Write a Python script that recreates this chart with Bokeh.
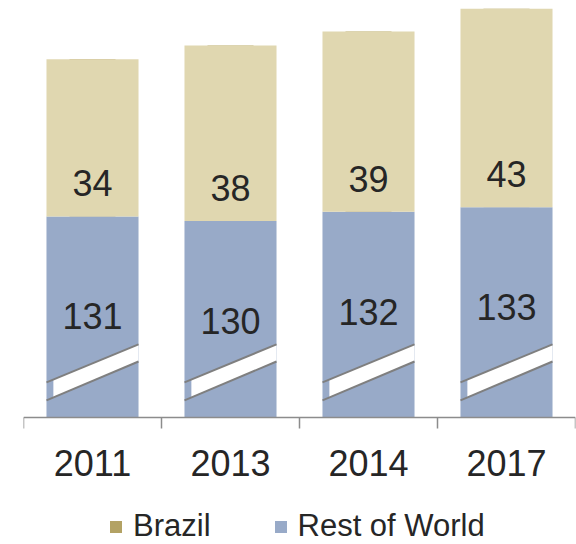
from bokeh.plotting import figure
from bokeh.models import Range1d, FixedTicker, Legend, LegendItem, ColumnDataSource
from bokeh.core.properties import value
from bokeh.embed import file_html
from bokeh.resources import INLINE

# ---- data ----
years = ["2011", "2013", "2014", "2017"]
rest_of_world = [131, 130, 132, 133]
brazil = [34, 38, 39, 43]

# ---- style ----
AXIS_START = 87.5          # truncated (broken) value axis
BELOW_PAD = 27.5           # room below the axis for labels and legend
FONT = "Liberation Sans"
BRAZIL_COLOR = "#e0d7b0"
BRAZIL_KEY = "#b3a264"
ROW_COLOR = "#98aac8"
TEXT = "#262626"
AXIS_COLOR = "#8c8c8c"
BAR_W = 0.667

x = list(range(len(years)))
totals = [r + b for r, b in zip(rest_of_world, brazil)]

src = ColumnDataSource(dict(
    x=x, row=rest_of_world, brazil=brazil, total=totals,
    row_lbl=[str(v) for v in rest_of_world],
    brazil_lbl=[str(v) for v in brazil],
))

p = figure(width=576, height=544,
           x_range=Range1d(-0.5, len(years) - 0.5),
           y_range=Range1d(AXIS_START - BELOW_PAD, max(totals)),
           output_backend="svg", toolbar_location=None,
           min_border_left=23, min_border_right=1,
           min_border_top=8, min_border_bottom=0,
           y_axis_location=None)
p.outline_line_color = None
p.xgrid.visible = False
p.ygrid.visible = False
p.background_fill_color = "white"
p.border_fill_color = "white"

# legend key for Brazil (darker swatch), hidden behind the Brazil bars
key_brazil = p.vbar(x='x', bottom='row', top='total', width=BAR_W * 0.5,
                    fill_color=BRAZIL_KEY, line_color=None, source=src)

row_bars = p.vbar(x='x', bottom=AXIS_START, top='row', width=BAR_W,
                  fill_color=ROW_COLOR, line_color=None, source=src)
p.vbar(x='x', bottom='row', top='total', width=BAR_W, fill_color=BRAZIL_COLOR,
       line_color=None, source=src)

# ---- axis-break markers on each bar ----
half = BAR_W / 2
inset = 0.05
lo_l, lo_r, up_l, up_r = 3.7, 12.1, 7.6, 15.8   # offsets above axis start
slope_lo = (lo_r - lo_l) / BAR_W
slope_up = (up_r - up_l) / BAR_W
fx, fy, lx, ly = [], [], [], []
for xi in x:
    L, R = xi - half, xi + half
    fx.append([L + inset, R, R, L + inset])
    fy.append([AXIS_START + lo_l + slope_lo * inset, AXIS_START + lo_r,
               AXIS_START + up_r, AXIS_START + up_l + slope_up * inset])
    lx += [[L, R], [L, R]]
    ly += [[AXIS_START + lo_l, AXIS_START + lo_r],
           [AXIS_START + up_l, AXIS_START + up_r]]
p.patches(fx, fy, fill_color="white", line_color=None)
p.multi_line(lx, ly, line_color="#7f7f7f", line_width=2)

# ---- value labels ----
p.text(x='x', y='row', text='brazil_lbl', source=src, text_align='center',
       text_baseline='middle', y_offset=-33, text_font=value(FONT),
       text_font_size="36px", text_color=TEXT)
p.text(x='x', y='row', text='row_lbl', source=src, text_align='center',
       text_baseline='middle', y_offset=100, text_font=value(FONT),
       text_font_size="36px", text_color=TEXT)

# ---- x axis (placed at the axis break) ----
ax = p.xaxis[0]
ax.fixed_location = AXIS_START
ax.ticker = FixedTicker(ticks=x, minor_ticks=[i - 0.5 for i in range(len(years) + 1)])
ax.major_label_overrides = {i: y for i, y in enumerate(years)}
ax.major_tick_line_color = None
ax.major_tick_out = 0
ax.major_tick_in = 0
ax.minor_tick_line_color = AXIS_COLOR
ax.minor_tick_line_width = 1.5
ax.minor_tick_out = 11
ax.minor_tick_in = 0
ax.axis_line_color = AXIS_COLOR
ax.axis_line_width = 1.5
ax.major_label_text_font = FONT
ax.major_label_text_font_size = "36px"
ax.major_label_text_color = TEXT
ax.major_label_standoff = 22

# ---- legend ----
legend = Legend(items=[LegendItem(label="Brazil", renderers=[key_brazil]),
                       LegendItem(label="Rest of World", renderers=[row_bars])],
                orientation="horizontal", location=(85, 0),
                glyph_width=15, glyph_height=15, label_standoff=10, spacing=62,
                padding=0, margin=0, border_line_color=None,
                background_fill_alpha=0, label_text_font=FONT,
                label_text_font_size="31px", label_text_color=TEXT,
                label_text_line_height=0.8, label_height=15)
p.add_layout(legend, "center")

open("out.html", "w").write(file_html(p, INLINE))
